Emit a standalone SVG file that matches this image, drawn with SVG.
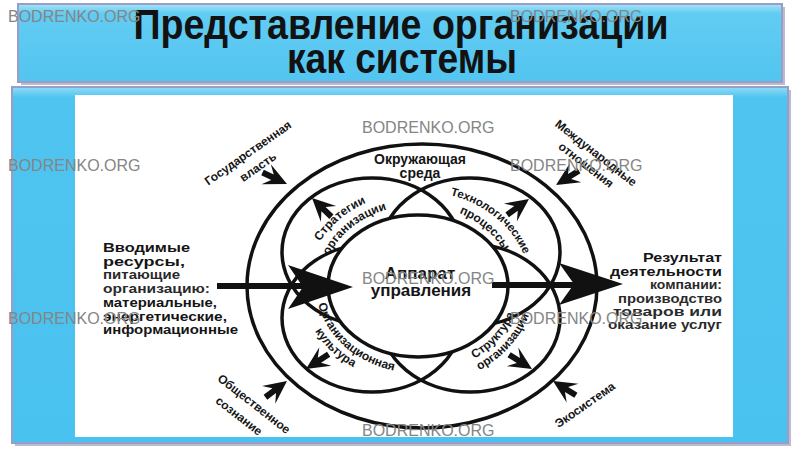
<svg xmlns="http://www.w3.org/2000/svg" xmlns:xlink="http://www.w3.org/1999/xlink" width="802" height="451" viewBox="0 0 802 451">
<defs>
<style>
.ring{fill:none;stroke:#111;stroke-width:3.5}
.mid{fill:#fff;stroke:#111;stroke-width:3.5}
.lbl{font-family:"Liberation Sans",Arial,sans-serif;font-size:12px;font-weight:bold;fill:#151515;text-anchor:middle}
.blk{font-family:"Liberation Sans",Arial,sans-serif;font-size:12.5px;font-weight:bold;fill:#151515}
.reg{fill:#2a2a2a}
.wm{font-family:"Liberation Sans",Arial,sans-serif;font-size:16px;fill:#858585}
.ttl{font-family:"Liberation Sans",Arial,sans-serif;font-size:42px;font-weight:bold;fill:#121212;text-anchor:middle}
.ah{fill:#111}
</style>
<linearGradient id="tg" x1="0" y1="0" x2="0" y2="1">
<stop offset="0" stop-color="#a6e4f8"/>
<stop offset="0.12" stop-color="#62ccf3"/>
<stop offset="1" stop-color="#52c5f0"/>
</linearGradient>
<linearGradient id="pg" x1="0" y1="0" x2="0" y2="1">
<stop offset="0" stop-color="#8fdcf6"/>
<stop offset="0.03" stop-color="#4fc4f0"/>
<stop offset="1" stop-color="#4ac2ef"/>
</linearGradient>
<path id="ah" d="M0,0 L-23,-11 L-16,-3 L-27,-3 L-27,3 L-16,3 L-23,11 Z"/>
<path id="p-ul1" d="M307,286 A111,94 0 0 1 418,192"/>
<path id="p-ul2" d="M322,286 A96,81 0 0 1 418,205"/>
<path id="p-ur1" d="M418,191 A112,95 0 0 1 530,286"/>
<path id="p-ur2" d="M418,205 A95,81 0 0 1 513,286"/>
<path id="p-ll1" d="M316,286 A102,87 0 0 0 418,373"/>
<path id="p-ll2" d="M302,286 A116,98 0 0 0 418,384"/>
<path id="p-lr1" d="M418,373 A102,87 0 0 0 520,286"/>
<path id="p-lr2" d="M418,385 A116,99 0 0 0 534,286"/>
</defs>
<rect width="802" height="451" fill="#fff"/>

<g id="title">
<rect x="21" y="7" width="764" height="78" fill="#b9bccf"/>
<rect x="18" y="4" width="764" height="78" fill="url(#tg)" stroke="#9a9ec6" stroke-width="2"/>
<text class="ttl" x="401" y="39" textLength="535" lengthAdjust="spacingAndGlyphs">Представление организации</text>
<text class="ttl" x="402" y="73" textLength="230" lengthAdjust="spacingAndGlyphs">как системы</text>
</g>

<g id="panel">
<rect x="15" y="90" width="776" height="356" fill="#b9bccf"/>
<rect x="12" y="87" width="776" height="356" fill="url(#pg)" stroke="#9a9ec6" stroke-width="2"/>
<rect x="75" y="95" width="658" height="342" fill="#fff"/>
</g>

<g id="rings">
<ellipse id="outer" class="ring" cx="422" cy="286" rx="175" ry="142"/>
<ellipse id="petal-ul" class="ring" cx="372" cy="252" rx="90" ry="74"/>
<ellipse id="petal-ur" class="ring" cx="470" cy="252" rx="90" ry="74"/>
<ellipse id="petal-ll" class="ring" cx="372" cy="318" rx="90" ry="74"/>
<ellipse id="petal-lr" class="ring" cx="470" cy="318" rx="90" ry="74"/>
<ellipse id="center" class="mid" cx="418" cy="286" rx="90" ry="71"/>
</g>

<g id="connectors">
<line x1="217" y1="286" x2="305" y2="286" stroke="#111" stroke-width="6"/>
<polygon class="ah" points="353,287 288,265 303,287 288,309"/>
<line x1="492" y1="285" x2="575" y2="285" stroke="#111" stroke-width="6"/>
<polygon class="ah" points="623,284 559,263 574,284 559,305"/>
<use href="#ah" class="ah" transform="translate(287,184) rotate(25)"/>
<use href="#ah" class="ah" transform="translate(312,198) rotate(-136)"/>
<use href="#ah" class="ah" transform="translate(556,185) rotate(148)"/>
<use href="#ah" class="ah" transform="translate(529,199) rotate(-36)"/>
<use href="#ah" class="ah" transform="translate(287,381) rotate(-37)"/>
<use href="#ah" class="ah" transform="translate(306,369) rotate(147)"/>
<use href="#ah" class="ah" transform="translate(532,369) rotate(32)"/>
<use href="#ah" class="ah" transform="translate(553,381) rotate(-148)"/>
</g>

<g id="node-env">
<text class="lbl" x="420" y="164" style="font-size:14px">Окружающая</text>
<text class="lbl" x="420" y="178" style="font-size:14px">среда</text>
</g>
<g id="node-apparat">
<text class="lbl" x="420" y="279" style="font-size:17px">Аппарат</text>
<text class="lbl" x="421" y="296" style="font-size:17px">управления</text>
</g>
<g id="node-strategy">
<text class="lbl"><textPath href="#p-ul1" startOffset="48%">Стратегии</textPath></text>
<text class="lbl"><textPath href="#p-ul2" startOffset="50%">организации</textPath></text>
</g>
<g id="node-tech">
<text class="lbl" style="font-size:11.5px"><textPath href="#p-ur1" startOffset="50%">Технологические</textPath></text>
<text class="lbl"><textPath href="#p-ur2" startOffset="52%">процессы</textPath></text>
</g>
<g id="node-culture">
<text class="lbl"><textPath href="#p-ll1" startOffset="48%">Организационная</textPath></text>
<text class="lbl"><textPath href="#p-ll2" startOffset="44%">культура</textPath></text>
</g>
<g id="node-structure">
<text class="lbl"><textPath href="#p-lr1" startOffset="60%">Структура</textPath></text>
<text class="lbl"><textPath href="#p-lr2" startOffset="60%">организации</textPath></text>
</g>
<g id="node-gov">
<text class="lbl" transform="translate(248,153) rotate(-35)" dy="4">Государственная</text>
<text class="lbl" transform="translate(258,167) rotate(-35)" dy="4">власть</text>
</g>
<g id="node-intl">
<text class="lbl" transform="translate(596,153) rotate(38)" dy="4">Международные</text>
<text class="lbl" transform="translate(586,165) rotate(38)" dy="4">отношения</text>
</g>
<g id="node-society">
<text class="lbl" transform="translate(254,404) rotate(38)" dy="4">Общественное</text>
<text class="lbl" transform="translate(239,416) rotate(38)" dy="4">сознание</text>
</g>
<g id="node-eco">
<text class="lbl" transform="translate(585,405) rotate(-35)" dy="4">Экосистема</text>
</g>

<g id="node-input">
<text class="blk" x="103" y="252" textLength="87" lengthAdjust="spacingAndGlyphs">Вводимые</text>
<text class="blk" x="103" y="266" textLength="82" lengthAdjust="spacingAndGlyphs">ресурсы,</text>
<text class="blk reg" x="103" y="279" textLength="77" lengthAdjust="spacingAndGlyphs">питающие</text>
<text class="blk reg" x="103" y="293" textLength="107" lengthAdjust="spacingAndGlyphs">организацию:</text>
<text class="blk" x="103" y="307" textLength="114" lengthAdjust="spacingAndGlyphs">материальные,</text>
<text class="blk" x="103" y="321" textLength="124" lengthAdjust="spacingAndGlyphs">энергетические,</text>
<text class="blk" x="103" y="334" textLength="135" lengthAdjust="spacingAndGlyphs">информационные</text>
</g>

<g id="node-output">
<text class="blk" x="643" y="262" textLength="79" lengthAdjust="spacingAndGlyphs">Результат</text>
<text class="blk" x="610" y="276" textLength="112" lengthAdjust="spacingAndGlyphs">деятельности</text>
<text class="blk reg" x="650" y="289" textLength="72" lengthAdjust="spacingAndGlyphs">компании:</text>
<text class="blk reg" x="618" y="303" textLength="104" lengthAdjust="spacingAndGlyphs">производство</text>
<text class="blk reg" x="613" y="316" textLength="109" lengthAdjust="spacingAndGlyphs">товаров или</text>
<text class="blk reg" x="608" y="329" textLength="114" lengthAdjust="spacingAndGlyphs">оказание услуг</text>
</g>

<g id="watermarks">
<text class="wm" x="8" y="22">BODRENKO.ORG</text>
<text class="wm" x="510" y="22">BODRENKO.ORG</text>
<text class="wm" x="362" y="133">BODRENKO.ORG</text>
<text class="wm" x="8" y="171">BODRENKO.ORG</text>
<text class="wm" x="510" y="171">BODRENKO.ORG</text>
<text class="wm" x="362" y="284">BODRENKO.ORG</text>
<text class="wm" x="8" y="324">BODRENKO.ORG</text>
<text class="wm" x="510" y="324">BODRENKO.ORG</text>
<text class="wm" x="362" y="436">BODRENKO.ORG</text>
</g>
</svg>
